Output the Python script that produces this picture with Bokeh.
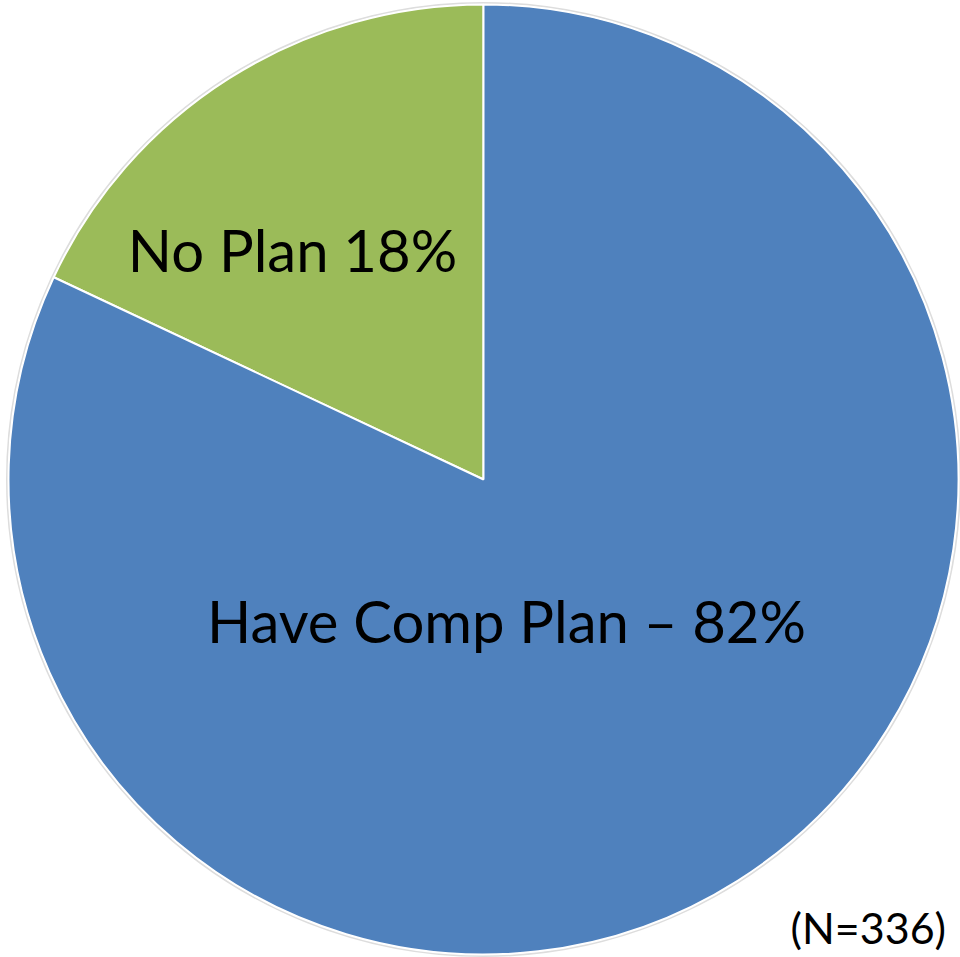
import math
from bokeh.plotting import figure
from bokeh.models import Range1d, ColumnDataSource
from bokeh.core.properties import value
from bokeh.embed import file_html
from bokeh.resources import INLINE

categories = ["No Plan", "Have Comp Plan"]
shares = [18, 82]
colors = ["#9BBB59", "#4F81BD"]
slice_labels = ["No Plan 18%", "Have Comp Plan \u2013 82%"]
note = "(N=336)"

W, H = 960, 957
p = figure(width=W, height=H, output_backend="svg", toolbar_location=None,
           x_range=Range1d(0, W), y_range=Range1d(0, H), min_border=0)
p.axis.visible = False
p.grid.visible = False
p.outline_line_color = None
p.background_fill_color = "white"

cx, cy, r = 483, 478, 475
total = sum(shares)
starts, ends = [], []
a = math.pi / 2
for s in shares:
    starts.append(a)
    a += 2 * math.pi * s / total
    ends.append(a)

src = ColumnDataSource(dict(cat=categories, start=starts, end=ends, color=colors))
# faint shadow ring
p.circle(x=[cx], y=[cy], radius=r + 1.5, fill_color=None, line_color="#DDDDDD", line_width=2)
p.wedge(x=cx, y=cy, radius=r, start_angle="start", end_angle="end", source=src,
        fill_color="color", line_color="white", line_width=2)

p.text(x=[292], y=[708], text=[slice_labels[0]], text_font=value("Lato"),
       text_font_size="58px", text_align="center", text_baseline="alphabetic", text_color="black")
p.text(x=[506], y=[337], text=[slice_labels[1]], text_font=value("Lato"),
       text_font_size="58px", text_align="center", text_baseline="alphabetic", text_color="black")
p.text(x=[790], y=[30], text=[note], text_font=value("Lato"),
       text_font_size="43px", text_align="left", text_baseline="alphabetic", text_color="black")

open("out.html", "w").write(file_html(p, INLINE))
